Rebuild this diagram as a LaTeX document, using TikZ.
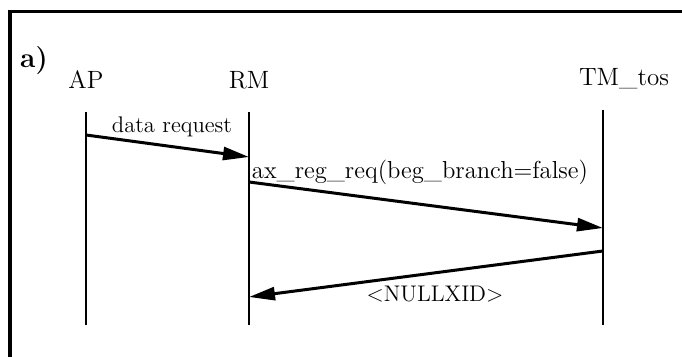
\documentclass[tikz,border=0pt]{standalone}
\usepackage{tikz}
\usetikzlibrary{positioning,arrows.meta,calc}

\tikzset{
  actor/.style={font=\fontsize{12.5}{14}\selectfont, inner sep=0pt, anchor=base},
  msglabel/.style={font=\fontsize{11.3}{13}\selectfont, inner sep=0pt},
  lifeline/.style={line width=1.3pt},
  msg/.style={line width=1.5pt, -{Triangle[length=13pt,width=6.5pt]}},
}

\begin{document}
\begin{tikzpicture}[x=0.5pt,y=-0.5pt]

  \useasboundingbox (0,0) rectangle (682,357);

  % frame, only top and left edges show
  \draw[line width=1.5pt] (682,12) -- (10,12) -- (10,357);

  \node[actor, font=\fontsize{14}{16}\bfseries] (tag) at (34,68) {a)};
  \node[actor] (ap) at (86,89) {AP};
  \node[actor] (rm) at (249,89) {RM};
  \node[actor] (tm) at (624,86) {TM\_tos};

  % lifelines
  \coordinate (ap0) at (86,112);
  \coordinate (ap1) at (86,325);
  \coordinate (rm0) at (249,112);
  \coordinate (rm1) at (249,325);
  \coordinate (tm0) at (603,110);
  \coordinate (tm1) at (603,325);

  \draw[lifeline] (ap0) -- (ap1);
  \draw[lifeline] (rm0) -- (rm1);
  \draw[lifeline] (tm0) -- (tm1);

  % message ends
  \coordinate (m1a) at (86,135);
  \coordinate (m1b) at (249,157);
  \coordinate (m2a) at (249,182);
  \coordinate (m2b) at (603,228);
  \coordinate (m3a) at (603,251);
  \coordinate (m3b) at (249,297);

  \draw[msg] (m1a) -- (m1b);
  \draw[msg] (m2a) -- (m2b);
  \draw[msg] (m3a) -- (m3b);

  \node[msglabel] (l1) at (172,127) {data request};
  \node[msglabel, font=\fontsize{12.3}{14}\selectfont] (l2) at (420,172) {ax\_reg\_req(beg\_branch=false)};
  \node[msglabel] (l3) at (435,294) {<NULLXID>};

\end{tikzpicture}
\end{document}
